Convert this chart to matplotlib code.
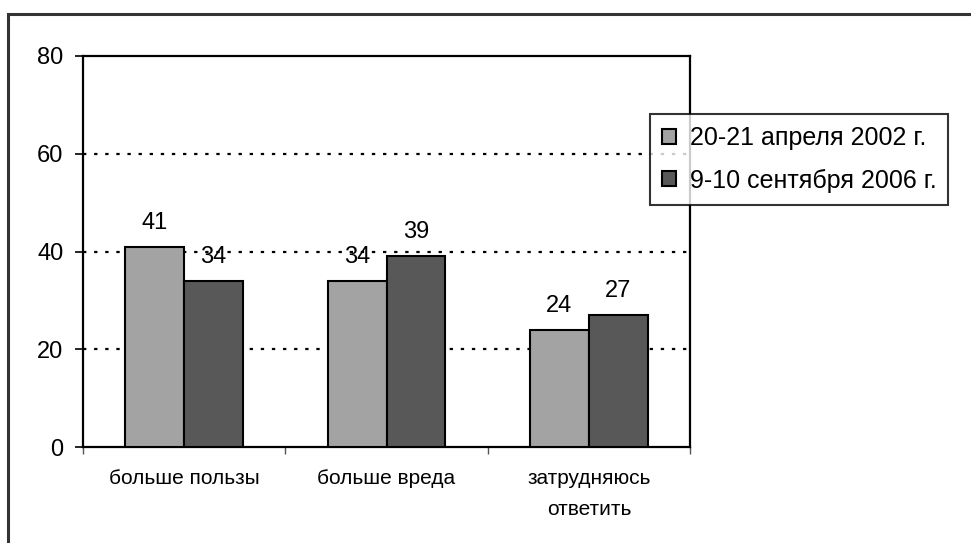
import matplotlib
matplotlib.use('Agg')
import matplotlib.pyplot as plt
import numpy as np
from matplotlib.patches import Rectangle

plt.rcParams['font.family'] = ['Liberation Sans', 'DejaVu Sans']

# data
categories = ['больше пользы', 'больше вреда', 'затрудняюсь\nответить']
series_names = ['20-21 апреля 2002 г.', '9-10 сентября 2006 г.']
values_2002 = [41, 34, 24]
values_2006 = [34, 39, 27]
colors = ['#a3a3a3', '#585858']
yticks = [0, 20, 40, 60, 80]

fig = plt.figure(figsize=(9.71, 5.43), dpi=100)

# outer frame of the chart area (right and bottom edges are cut off)
fig.patches.append(Rectangle((8/971, -0.1), 1.2, 1 - 14/543 + 0.1,
                             transform=fig.transFigure, fill=False,
                             edgecolor='#333333', linewidth=2.2))

ax = fig.add_axes([83/971, 1 - 447/543, 607/971, 391/543])

x = np.arange(len(categories))
w = 0.29
bars1 = ax.bar(x - w/2, values_2002, w, color=colors[0], edgecolor='black',
               linewidth=1.5, label=series_names[0], zorder=3)
bars2 = ax.bar(x + w/2, values_2006, w, color=colors[1], edgecolor='black',
               linewidth=1.5, label=series_names[1], zorder=3)

for bars, vals in [(bars1, values_2002), (bars2, values_2006)]:
    for b, v in zip(bars, vals):
        ax.annotate(str(v), (b.get_x() + b.get_width()/2, v),
                    xytext=(0, 13), textcoords='offset points',
                    ha='center', va='baseline', fontsize=17, zorder=4)

ax.set_xlim(-0.5, len(categories) - 0.5)
ax.set_ylim(0, 80)
ax.set_yticks(yticks)
ax.tick_params(axis='y', labelsize=17, length=6, width=1.2, pad=8)

# category boundaries as ticks
ax.set_xticks(np.arange(len(categories) + 1) - 0.5)
ax.set_xticklabels([])
ax.tick_params(axis='x', length=5, width=1, color='#555555')

# category names, each line on its own baseline
for i, cat in enumerate(categories):
    for j, line in enumerate(cat.split('\n')):
        ax.annotate(line, (i, 0), xycoords=('data', 'axes fraction'),
                    xytext=(0, -26.5 - j * 22.5), textcoords='offset points',
                    ha='center', va='baseline', fontsize=15)

for g in yticks[1:-1]:
    ax.axhline(g, color='black', linestyle=(0, (1.5, 3.5)), linewidth=1.6, zorder=1)

for s in ax.spines.values():
    s.set_linewidth(1.6)
    s.set_color('black')

leg = ax.legend(loc='upper left', bbox_to_anchor=(650/971, 1 - 114/543),
                bbox_transform=fig.transFigure, borderaxespad=0,
                fontsize=18, frameon=True, fancybox=False,
                handlelength=0.55, handleheight=0.55, handletextpad=0.55,
                labelspacing=0.75, borderpad=0.48)
leg.get_frame().set_edgecolor('black')
leg.get_frame().set_linewidth(1.5)
leg.set_zorder(5)

fig.savefig('out.png', dpi=100)
